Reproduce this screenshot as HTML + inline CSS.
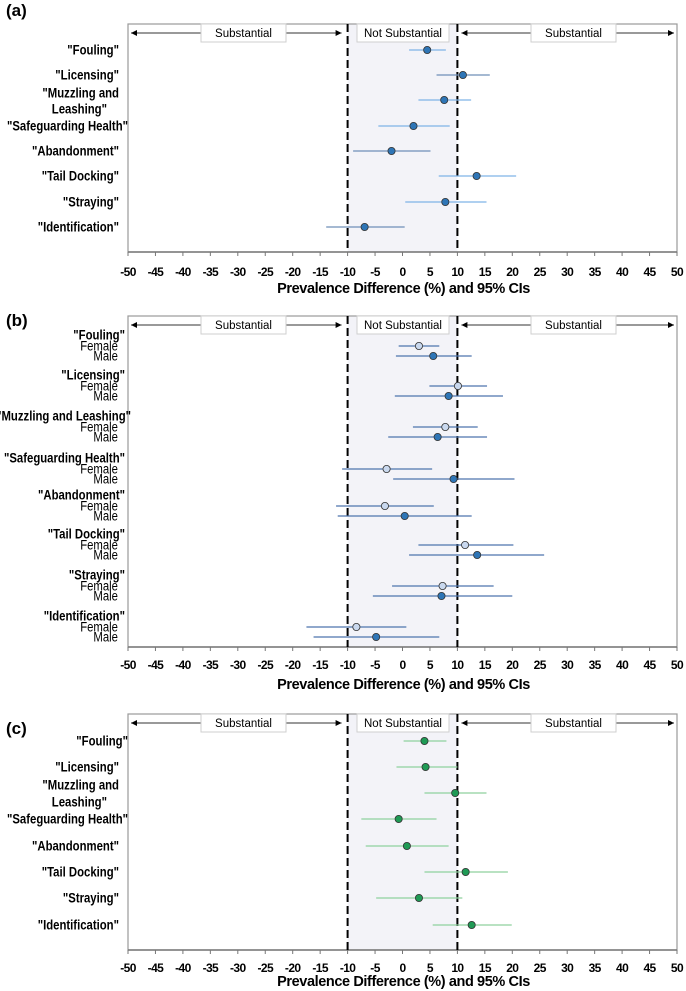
<!DOCTYPE html>
<html><head><meta charset="utf-8"><style>
html,body{margin:0;padding:0;background:#fff;}
svg{display:block;font-family:"Liberation Sans",sans-serif;}
</style></head><body>
<svg id="chart" width="686" height="991" viewBox="0 0 686 991" xmlns="http://www.w3.org/2000/svg"></svg>
<script>
const ticks = [-50,-45,-40,-35,-30,-25,-20,-15,-10,-5,0,5,10,15,20,25,30,35,40,45,50];
const catsA = ['"Fouling"','"Licensing"','"Muzzling and Leashing"','"Safeguarding Health"','"Abandonment"','"Tail Docking"','"Straying"','"Identification"'];
const estA = [4.5,11.0,7.6,2.0,-2.0,13.5,7.8,-6.9];
const lowA = [1.2,6.2,2.9,-4.4,-9.0,6.6,0.5,-13.9];
const highA = [7.9,15.9,12.5,8.6,5.1,20.7,15.3,0.4];
const estBF = [3.0,10.1,7.8,-2.9,-3.2,11.4,7.3,-8.4];
const lowBF = [-0.7,4.9,1.9,-11.0,-12.1,2.9,-1.9,-17.5];
const highBF = [6.7,15.4,13.7,5.4,5.7,20.2,16.6,0.7];
const estBM = [5.6,8.4,6.4,9.3,0.4,13.6,7.1,-4.8];
const lowBM = [-1.2,-1.4,-2.6,-1.7,-11.8,1.2,-5.4,-16.2];
const highBM = [12.6,18.3,15.4,20.4,12.6,25.8,20.0,6.7];
const estC = [4.0,4.2,9.6,-0.7,0.8,11.5,3.0,12.6];
const lowC = [0.2,-1.1,4.0,-7.5,-6.7,4.0,-4.8,5.5];
const highC = [8.0,10.0,15.3,6.2,8.4,19.2,10.9,19.9];

const NS='http://www.w3.org/2000/svg';
const svg=document.getElementById('chart');
function el(tag,attrs,parent,text){const e=document.createElementNS(NS,tag);for(const k in attrs)e.setAttribute(k,attrs[k]);if(text!==undefined)e.textContent=text;(parent||svg).appendChild(e);return e;}
function squeeze(e,f){const w=e.getComputedTextLength();if(w>0){e.setAttribute('textLength',(w*f).toFixed(1));e.setAttribute('lengthAdjust','spacingAndGlyphs');}}
const X0=128,X1=677;
function xs(v){return X0+(v+50)/100*(X1-X0);}

function panel(id,letter,top,bottom,tickY,titleY,letterY){
  const g=el('g',{},svg);
  
  
  const sh=el('rect',{x:xs(-10),y:top,width:xs(10)-xs(-10),height:bottom-top,fill:'#f3f3f8'},g);
  
  
  const box=el('rect',{x:X0,y:top,width:X1-X0,height:bottom-top,fill:'none',stroke:'#9a9a9a','stroke-width':1.2},g);
  
  
  const ax=el('line',{x1:X0,x2:X1,y1:bottom,y2:bottom,stroke:'#777','stroke-width':1.5},g);
  
  
  [-10,10].forEach(v=>{const l=el('line',{x1:xs(v),x2:xs(v),y1:top,y2:bottom,stroke:'#000','stroke-width':2,'stroke-dasharray':'8,4'},g);
    
    });
  ticks.forEach(t=>{
    el('line',{x1:xs(t),x2:xs(t),y1:bottom,y2:bottom+4,stroke:'#777'},g);
    const tl=el('text',{x:xs(t),y:tickY,'text-anchor':'middle','font-size':12,'font-weight':'bold','letter-spacing':'-0.6'},g,String(t));
    
    
  });
  const tt=el('text',{x:xs(0)+1,y:titleY,'text-anchor':'middle','font-size':14.5,'font-weight':'bold','letter-spacing':'-0.4'},g,'Prevalence Difference (%) and 95% CIs');
  
  
  const lt=el('text',{x:6,y:letterY,'font-size':17,'font-weight':'bold'},g,'('+letter+')');
  
  
  const ay=top+9;
  [[X0+3,xs(-10)-6],[xs(10)+4,X1-3]].forEach(([a,b])=>{
    el('line',{x1:a,x2:b,y1:ay,y2:ay,stroke:'#333','stroke-width':1},g);
    el('path',{d:`M${a} ${ay} l6 -3 v6 z`,fill:'#000'},g);
    el('path',{d:`M${b} ${ay} l-6 -3 v6 z`,fill:'#000'},g);
  });
  [['Substantial',201,286],['Not Substantial',357,449],['Substantial',531,616]].forEach(([t,a,b])=>{
    const r=el('rect',{x:a,y:ay-9,width:b-a,height:18,fill:'#fff',stroke:'#cfcfcf'},g);
    
    
    el('text',{x:(a+b)/2,y:ay+4,'text-anchor':'middle','font-size':11.5},g,t);
  });
  return g;
}
function ci(g,y,lo,hi,est,color,fill,name){
  const l=el('line',{x1:xs(lo),x2:xs(hi),y1:y,y2:y,stroke:color,'stroke-width':1.3},g);
  
  
  const c=el('circle',{cx:xs(est),cy:y,r:3.6,fill:fill,stroke:'#333','stroke-width':0.8},g);
  
  
}
function label(g,x,y,t,bold,name){
  const e=el('text',{x:x,y:y+4.5,'text-anchor':'end','font-size':bold?13.5:13.5,'font-weight':bold?'bold':'normal'},g,t);
  
  
  squeeze(e,0.84);
}
// Panel A
const gA=panel('a','a',24,252,276,293,16);
const rowsA=[50,75,100,126,151,176,202,227];
catsA.forEach((c,i)=>{
  if(i===2){label(gA,119,93,'"Muzzling and',true,'row-label');label(gA,107,109,'Leashing"',true,'row-label');}
  else label(gA,i===3?128:119,rowsA[i],c,true,'row-label');
  ci(gA,rowsA[i],lowA[i],highA[i],estA[i],(i===1||i===4||i===7)?'#6f8fb8':'#7fb3e6','#2e75b6','a-'+i);
});
// Panel B
const gB=panel('b','b',316,647,669,689,326);
const hdrB=[335,375,416,458,495,534,575,616];
catsA.forEach((c,i)=>{
  const h=hdrB[i];
  label(gB,i===2?131:125,h,c,true,'group-label');
  label(gB,118,h+11,'Female',false,'female-label');
  label(gB,118,h+21,'Male',false,'male-label');
  ci(gB,h+11,lowBF[i],highBF[i],estBF[i],'#4d74ad','#c9d8ee','b-female-'+i);
  ci(gB,h+21,lowBM[i],highBM[i],estBM[i],'#4d74ad','#2e75b6','b-male-'+i);
});
// Panel C
const gC=panel('c','c',714,950,972,986,734);
const rowsC=[741,767,793,819,846,872,898,925];
catsA.forEach((c,i)=>{
  if(i===2){label(gC,119,785,'"Muzzling and',true,'row-label');label(gC,107,802,'Leashing"',true,'row-label');}
  else label(gC,i===3||i===0?128:119,rowsC[i],c,true,'row-label');
  ci(gC,rowsC[i],lowC[i],highC[i],estC[i],'#8fd19e','#1f9a55','c-'+i);
});
</script>
</body></html>
